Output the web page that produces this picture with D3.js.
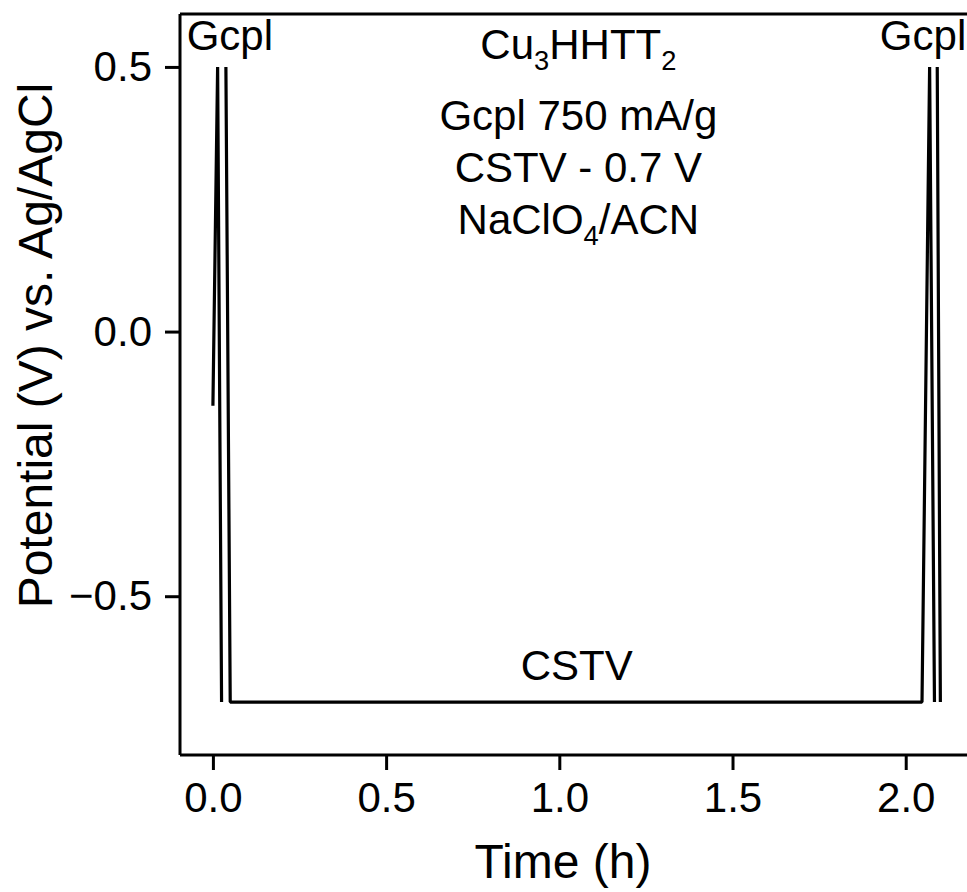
<!DOCTYPE html>
<html>
<head>
<meta charset="utf-8">
<script src="https://cdn.jsdelivr.net/npm/d3@7"></script>
<style>
  html, body { margin: 0; padding: 0; background: #fff; }
  svg text { font-family: "Liberation Sans", Arial, Helvetica, sans-serif; fill: #000; }
</style>
</head>
<body>
<div id="chart"></div>
<script>
// Potential trace, time in hours; NaN marks a break between recorded segments
const timeH = [0.0, 0.0136, 0.025, NaN, 0.0375, 0.050, 2.047, 2.069, 2.083, NaN, 2.091, 2.100];
const potentialV = [-0.14, 0.5, -0.7, NaN, 0.5, -0.7, -0.7, 0.5, -0.7, NaN, 0.5, -0.7];

const xTicks = [0.0, 0.5, 1.0, 1.5, 2.0];
const yTicks = [-0.5, 0.0, 0.5];

const annotations = [
  { x: 0.049, y: 0.532, parts: [["Gcpl"]] },
  { x: 2.05, y: 0.532, parts: [["Gcpl"]] },
  { x: 1.055, y: 0.515, parts: [["Cu"], ["3", "sub"], ["HHTT"], ["2", "sub"]] },
  { x: 1.055, y: 0.380, parts: [["Gcpl 750 mA/g"]] },
  { x: 1.055, y: 0.283, parts: [["CSTV - 0.7 V"]] },
  { x: 1.055, y: 0.185, parts: [["NaClO"], ["4", "sub"], ["/ACN"]] },
  { x: 1.05, y: -0.658, parts: [["CSTV"]] }
];

const width = 967, height = 892;
const margin = { top: 14, right: -8, bottom: 137, left: 180 };
const FONT = 42;
const TITLE_FONT = 48;

const svg = d3.select("#chart").append("svg")
  .attr("width", width)
  .attr("height", height);

const x = d3.scaleLinear()
  .domain([-0.095, 2.2])
  .range([margin.left, width - margin.right]);

const y = d3.scaleLinear()
  .domain([-0.8, 0.6])
  .range([height - margin.bottom, margin.top]);

// frame (top edge; right edge falls outside the picture)
svg.append("line")
  .attr("x1", margin.left).attr("x2", width - margin.right)
  .attr("y1", margin.top).attr("y2", margin.top)
  .attr("stroke", "#000").attr("stroke-width", 3);

// Axes
const xAxis = svg.append("g")
  .attr("transform", `translate(0,${height - margin.bottom})`)
  .call(d3.axisBottom(x).tickValues(xTicks).tickFormat(d3.format(".1f"))
    .tickSize(15).tickPadding(12).tickSizeOuter(0));

const yAxis = svg.append("g")
  .attr("transform", `translate(${margin.left},0)`)
  .call(d3.axisLeft(y).tickValues(yTicks).tickFormat(d3.format(".1f"))
    .tickSize(15).tickPadding(13).tickSizeOuter(0));

[xAxis, yAxis].forEach(g => {
  g.selectAll("path, line").attr("stroke", "#000").attr("stroke-width", 3);
  g.selectAll("text")
    .style("font-family", '"Liberation Sans", Arial, sans-serif')
    .attr("font-size", FONT).attr("fill", "#000");
});
xAxis.select(".domain").attr("d", `M${margin.left},0H${width - margin.right}`);
yAxis.select(".domain").attr("d", `M0,${margin.top}V${height - margin.bottom}`);

// axis titles
svg.append("text")
  .attr("x", 563).attr("y", 878)
  .attr("text-anchor", "middle")
  .attr("font-size", TITLE_FONT)
  .text("Time (h)");

svg.append("text")
  .attr("transform", `translate(52,${y(0) + 14}) rotate(-90)`)
  .attr("text-anchor", "middle")
  .attr("font-size", TITLE_FONT)
  .text("Potential (V) vs. Ag/AgCl");

// data trace
const pts = timeH.map((t, i) => ({ t, v: potentialV[i] }));
svg.append("path")
  .datum(pts)
  .attr("fill", "none")
  .attr("stroke", "#000")
  .attr("stroke-width", 3.2)
  .attr("stroke-linejoin", "bevel")
  .attr("d", d3.line()
    .defined(d => !isNaN(d.t) && !isNaN(d.v))
    .x(d => x(d.t))
    .y(d => y(d.v)));

// annotations
annotations.forEach(a => {
  const txt = svg.append("text")
    .attr("x", x(a.x)).attr("y", y(a.y))
    .attr("text-anchor", "middle")
    .attr("font-size", FONT);
  a.parts.forEach(([s, kind]) => {
    const ts = txt.append("tspan").text(s);
    if (kind === "sub") ts.attr("font-size", FONT * 0.65).attr("baseline-shift", "-40%");
  });
});
</script>
</body>
</html>
